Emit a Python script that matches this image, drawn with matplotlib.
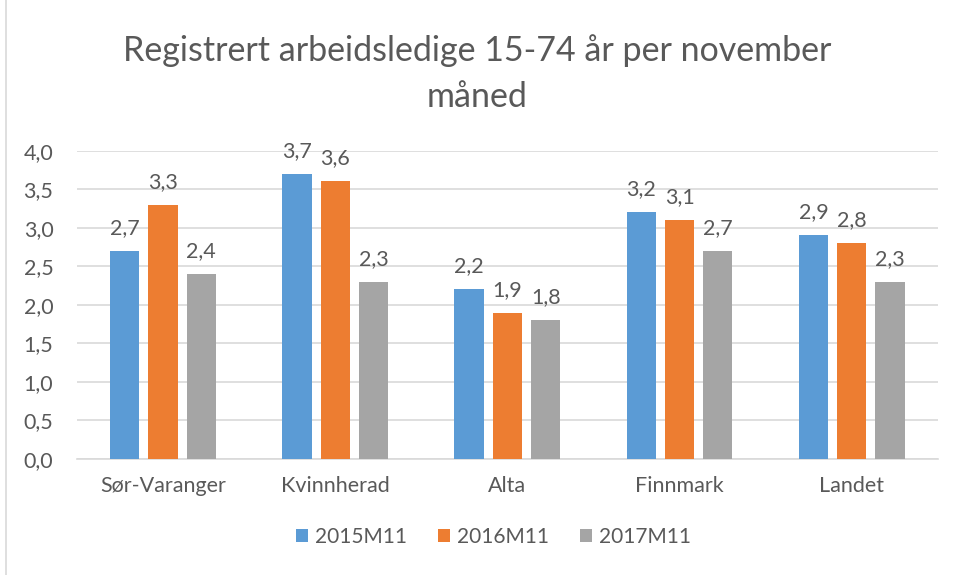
import numpy as np
import matplotlib.pyplot as plt
from matplotlib.patches import Patch
from matplotlib.lines import Line2D

plt.rcParams['font.family'] = ['Lato', 'DejaVu Sans']

categories = ['Sør-Varanger', 'Kvinnherad', 'Alta', 'Finnmark', 'Landet']
series_names = ['2015M11', '2016M11', '2017M11']
v2015 = [2.7, 3.7, 2.2, 3.2, 2.9]
v2016 = [3.3, 3.6, 1.9, 3.1, 2.8]
v2017 = [2.4, 2.3, 1.8, 2.7, 2.3]
colors = ['#5B9BD5', '#ED7D31', '#A5A5A5']
yticks = [0.0, 0.5, 1.0, 1.5, 2.0, 2.5, 3.0, 3.5, 4.0]

txt = '#595959'

fig = plt.figure(figsize=(9.54, 5.75), dpi=100)
ax = fig.add_axes([0.0807, 0.2017, 0.9023, 0.5363])

x = np.arange(len(categories))
width = 0.170
step = 0.2225
for i, vals in enumerate([v2015, v2016, v2017]):
    bars = ax.bar(x + (i - 1) * step, vals, width, color=colors[i], zorder=3)
    for b, v in zip(bars, vals):
        ax.annotate(f'{v:.1f}'.replace('.', ','),
                    (b.get_x() + b.get_width() / 2, v),
                    xytext=(0, 16.5), textcoords='offset points',
                    ha='center', va='center', fontsize=15.5, color=txt)

ax.set_xlim(-0.5, len(categories) - 0.5)
ax.set_ylim(0, 4.0)
ax.set_yticks(yticks)
ax.set_yticklabels([f'{t:.1f}'.replace('.', ',') for t in yticks])
ax.set_xticks(x)
ax.set_xticklabels(categories)
ax.tick_params(axis='both', length=0, labelsize=15.5, colors=txt)
ax.tick_params(axis='y', pad=17)
ax.tick_params(axis='x', pad=12.5)
ax.grid(axis='y', color='#D9D9D9', linewidth=1.2, zorder=0)
for s in ['top', 'right', 'left']:
    ax.spines[s].set_visible(False)
ax.spines['bottom'].set_color('#D9D9D9')
ax.spines['bottom'].set_linewidth(1.2)

fig.text(0.5, 0.912, 'Registrert arbeidsledige 15-74 år per november',
         ha='center', va='center', fontsize=24.5, color=txt)
fig.text(0.5, 0.831, 'måned', ha='center', va='center', fontsize=24.5, color=txt)

handles = [Patch(facecolor=c) for c in colors]
fig.legend(handles, series_names, loc='center', bbox_to_anchor=(0.517, 0.066),
           ncol=3, frameon=False, fontsize=15, labelcolor=txt,
           handlelength=0.6, handleheight=0.6, handletextpad=0.3,
           columnspacing=1.5)

# light frame line on the left edge
fig.add_artist(Line2D([0.0063, 0.0063], [0, 1], color='#D9D9D9', linewidth=1.2,
                      transform=fig.transFigure))

fig.savefig('out.png', dpi=100)
